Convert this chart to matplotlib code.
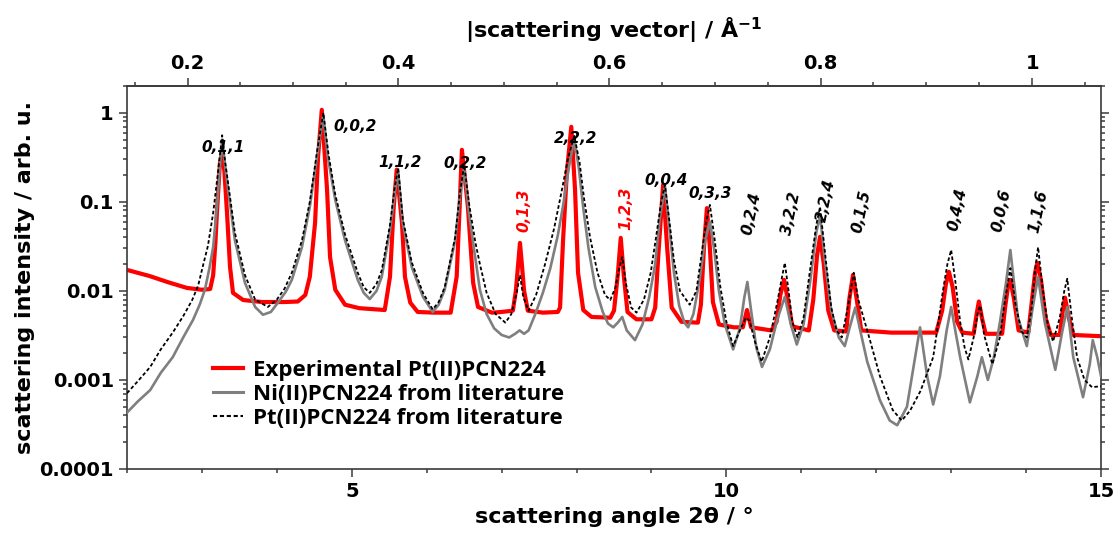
import numpy as np
import matplotlib
matplotlib.use("Agg")
import matplotlib.pyplot as plt
from matplotlib.ticker import FixedLocator, MultipleLocator, LogLocator, FuncFormatter, NullFormatter

# ---------------- data ----------------
exp_x = [2.00, 2.30, 2.55, 2.80, 3.00, 3.11, 3.15, 3.18, 3.20, 3.24, 3.27, 3.30, 3.335, 3.375, 3.415,
         3.55, 3.80, 4.10, 4.28, 4.38, 4.44, 4.51, 4.55, 4.60, 4.67, 4.71, 4.78, 4.91, 5.10,
         5.44, 5.51, 5.56, 5.60, 5.67, 5.71, 5.78, 5.88, 6.10, 6.32, 6.40, 6.44, 6.47, 6.55,
         6.62, 6.685, 6.87, 7.00, 7.15, 7.19, 7.22, 7.245, 7.27, 7.30, 7.35, 7.55, 7.75, 7.78,
         7.82, 7.87, 7.93, 7.98, 8.02, 8.09, 8.20, 8.45, 8.50, 8.55, 8.59, 8.63, 8.68, 8.80,
         9.00, 9.05, 9.09, 9.155, 9.21, 9.27, 9.40, 9.62, 9.66, 9.70, 9.74, 9.78, 9.82, 9.90,
         10.10, 10.22, 10.275, 10.33, 10.60, 10.67, 10.72, 10.77, 10.82, 10.88, 11.10, 11.16,
         11.21, 11.25, 11.30, 11.36, 11.44, 11.60, 11.64, 11.69, 11.74, 11.80, 12.20, 12.80,
         12.88, 12.93, 12.97, 13.02, 13.08, 13.15, 13.30, 13.34, 13.37, 13.41, 13.46, 13.68,
         13.72, 13.76, 13.79, 13.84, 13.90, 14.03, 14.08, 14.12, 14.15, 14.20, 14.26, 14.33,
         14.45, 14.49, 14.52, 14.57, 14.63, 15.00]
exp_y = [0.0172, 0.0147, 0.0125, 0.0108, 0.0103, 0.0105, 0.0150, 0.035, 0.075, 0.27, 0.37, 0.22, 0.075, 0.0186, 0.0095,
         0.0079, 0.0075, 0.0075, 0.0076, 0.0090, 0.0144, 0.058, 0.32, 1.08, 0.137, 0.024, 0.0103, 0.0070, 0.0064,
         0.0061, 0.0144, 0.088, 0.23, 0.058, 0.0144, 0.0074, 0.0058, 0.0057, 0.0057, 0.0144, 0.088, 0.384, 0.088,
         0.0123, 0.0066, 0.0057, 0.0058, 0.0060, 0.010, 0.020, 0.0346, 0.020, 0.010, 0.0060, 0.0057, 0.0058, 0.0065,
         0.037, 0.21, 0.696, 0.137, 0.016, 0.0061, 0.0051, 0.0050, 0.0060, 0.015, 0.0394, 0.015, 0.0058, 0.0048,
         0.0048, 0.0065, 0.024, 0.155, 0.030, 0.0065, 0.0045, 0.0044, 0.0070, 0.030, 0.085, 0.030, 0.0075, 0.0042,
         0.0039, 0.0039, 0.0061, 0.0039, 0.0036, 0.0045, 0.0090, 0.0133, 0.0080, 0.0040, 0.0036, 0.0080,
         0.025, 0.0405, 0.020, 0.0060, 0.0036, 0.0035, 0.0080, 0.0151, 0.0080, 0.0036, 0.0034, 0.0034,
         0.0060, 0.012, 0.0164, 0.011, 0.0045, 0.0034, 0.0033, 0.0055, 0.0076, 0.0050, 0.0033, 0.0033,
         0.0065, 0.0115, 0.0133, 0.0080, 0.0036, 0.0034, 0.0080, 0.016, 0.0207, 0.013, 0.0050, 0.0032,
         0.0032, 0.0060, 0.0084, 0.0050, 0.0032, 0.0031]

ni_x = [2.00, 2.15, 2.31, 2.45, 2.61, 2.75, 2.88, 2.97, 3.04, 3.10, 3.15, 3.21, 3.24, 3.27, 3.30, 3.35,
        3.44, 3.575, 3.71, 3.815, 3.92, 4.015, 4.12, 4.20, 4.335, 4.44, 4.535, 4.62, 4.68, 4.78, 4.91,
        5.08, 5.16, 5.24, 5.33, 5.40, 5.51, 5.58, 5.62, 5.68, 5.80, 5.95, 6.08, 6.16, 6.24, 6.38, 6.44,
        6.50, 6.56, 6.63, 6.71, 6.80, 6.90, 7.00, 7.10, 7.18, 7.24, 7.30, 7.36, 7.45, 7.55, 7.65, 7.75,
        7.82, 7.90, 7.97, 8.03, 8.09, 8.16, 8.25, 8.35, 8.42, 8.49, 8.55, 8.61, 8.67, 8.78, 8.88, 8.97,
        9.05, 9.11, 9.18, 9.24, 9.30, 9.37, 9.44, 9.49, 9.56, 9.64, 9.71, 9.78, 9.84, 9.90, 9.98, 10.09,
        10.18, 10.24, 10.28, 10.33, 10.40, 10.475, 10.58, 10.68, 10.78, 10.86, 10.94, 11.03, 11.12, 11.20,
        11.25, 11.32, 11.40, 11.50, 11.58, 11.65, 11.72, 11.80, 11.88, 12.05, 12.18, 12.28, 12.41, 12.52,
        12.585, 12.68, 12.76, 12.85, 12.94, 13.00, 13.06, 13.12, 13.25, 13.35, 13.41, 13.49, 13.57, 13.65,
        13.73, 13.79, 13.84, 13.89, 14.01, 14.09, 14.16, 14.25, 14.39, 14.48, 14.55, 14.63, 14.76, 14.85,
        14.89, 14.95, 15.00]
ni_y = [0.00043, 0.00058, 0.00077, 0.0012, 0.0018, 0.0030, 0.0047, 0.0070, 0.0103, 0.018, 0.031, 0.11, 0.25, 0.50, 0.30, 0.137,
        0.037, 0.0123, 0.0066, 0.0054, 0.0058, 0.0074, 0.0098, 0.0133, 0.031, 0.088, 0.32, 0.95, 0.32, 0.105, 0.037,
        0.0133, 0.0095, 0.0081, 0.0100, 0.0144, 0.048, 0.137, 0.217, 0.058, 0.0186, 0.0086, 0.0058, 0.0070, 0.0103, 0.037, 0.11,
        0.24, 0.08, 0.030, 0.0103, 0.0055, 0.0038, 0.0032, 0.0030, 0.0033, 0.0036, 0.0033, 0.0036, 0.0055, 0.0095, 0.018, 0.042,
        0.09, 0.25, 0.52, 0.24, 0.085, 0.030, 0.011, 0.0058, 0.0043, 0.0039, 0.0044, 0.0051, 0.0036, 0.0028, 0.0042, 0.0085,
        0.020, 0.065, 0.15, 0.05, 0.016, 0.0068, 0.0044, 0.0039, 0.0055, 0.013, 0.035, 0.060, 0.028, 0.010, 0.0042, 0.0022,
        0.0038, 0.0085, 0.0126, 0.0060, 0.0023, 0.0014, 0.0022, 0.0048, 0.0086, 0.0042, 0.0025, 0.0042, 0.013, 0.045,
        0.071, 0.020, 0.0060, 0.0030, 0.0024, 0.0040, 0.0065, 0.0032, 0.0016, 0.00059, 0.00035, 0.00031, 0.0005, 0.0018,
        0.0039, 0.0011, 0.00053, 0.0011, 0.0036, 0.0066, 0.0034, 0.0018, 0.00056, 0.0011, 0.0018, 0.0010, 0.0018, 0.0044,
        0.012, 0.0288, 0.012, 0.0051, 0.0024, 0.0066, 0.0144, 0.0044, 0.0013, 0.0034, 0.0066, 0.0018, 0.00064, 0.0015,
        0.0028, 0.0018, 0.0011]

pt_x = [2.00, 2.15, 2.31, 2.45, 2.61, 2.75, 2.87, 2.95, 3.01, 3.08, 3.15, 3.21, 3.27, 3.31, 3.36, 3.44,
        3.575, 3.71, 3.88, 4.00, 4.10, 4.20, 4.335, 4.44, 4.535, 4.62, 4.69, 4.78, 4.91, 5.08, 5.16, 5.24,
        5.33, 5.40, 5.51, 5.57, 5.62, 5.68, 5.80, 5.95, 6.08, 6.16, 6.24, 6.38, 6.44, 6.50, 6.57, 6.65,
        6.71, 6.80, 6.92, 7.05, 7.13, 7.20, 7.245, 7.29, 7.36, 7.46, 7.58, 7.70, 7.80, 7.89, 7.97, 8.04,
        8.10, 8.18, 8.28, 8.38, 8.45, 8.52, 8.57, 8.61, 8.66, 8.73, 8.80, 8.90, 8.99, 9.07, 9.13, 9.18,
        9.24, 9.30, 9.38, 9.51, 9.60, 9.67, 9.73, 9.78, 9.84, 9.92, 10.00, 10.09, 10.18, 10.26, 10.31,
        10.38, 10.47, 10.58, 10.68, 10.74, 10.78, 10.83, 10.88, 10.95, 11.03, 11.12, 11.20, 11.25, 11.32,
        11.40, 11.47, 11.54, 11.62, 11.70, 11.76, 11.88, 12.05, 12.22, 12.34, 12.45, 12.59, 12.76, 12.89,
        12.95, 13.00, 13.06, 13.12, 13.18, 13.23, 13.30, 13.36, 13.39, 13.44, 13.55, 13.65, 13.72, 13.79,
        13.86, 13.94, 14.01, 14.07, 14.12, 14.16, 14.22, 14.29, 14.36, 14.45, 14.51, 14.55, 14.61, 14.68,
        14.78, 14.88, 15.00]
pt_y = [0.00071, 0.00098, 0.0014, 0.0022, 0.0034, 0.0052, 0.0079, 0.0115, 0.0186, 0.032, 0.075, 0.20, 0.56, 0.28, 0.14, 0.045,
        0.015, 0.0080, 0.0066, 0.0080, 0.0105, 0.016, 0.037, 0.10, 0.36, 1.0, 0.34, 0.12, 0.043, 0.016, 0.011, 0.0095,
        0.012, 0.017, 0.055, 0.14, 0.24, 0.065, 0.021, 0.0095, 0.0062, 0.0075, 0.011, 0.040, 0.12, 0.26, 0.09, 0.035,
        0.020, 0.0095, 0.0055, 0.0044, 0.0055, 0.0095, 0.015, 0.0085, 0.0060, 0.0090, 0.020, 0.050, 0.13, 0.32, 0.55, 0.28,
        0.11, 0.040, 0.016, 0.0090, 0.0079, 0.011, 0.018, 0.024, 0.012, 0.0065, 0.0057, 0.0080, 0.016, 0.045, 0.10, 0.155,
        0.06, 0.022, 0.010, 0.0070, 0.010, 0.026, 0.06, 0.0925, 0.04, 0.011, 0.0045, 0.0024, 0.0036, 0.0050, 0.0046,
        0.0027, 0.0016, 0.0030, 0.0075, 0.014, 0.0207, 0.010, 0.0045, 0.0030, 0.0050, 0.018, 0.055, 0.088, 0.025,
        0.0065, 0.0036, 0.0030, 0.0065, 0.016, 0.0080, 0.0036, 0.0011, 0.00046, 0.00035, 0.00045, 0.00075, 0.0018, 0.010,
        0.020, 0.0288, 0.012, 0.0045, 0.0023, 0.0017, 0.0030, 0.0060, 0.0068, 0.0032, 0.0015, 0.0030, 0.0080, 0.018,
        0.0070, 0.0035, 0.0030, 0.0060, 0.017, 0.031, 0.011, 0.0042, 0.0027, 0.0050, 0.010, 0.0137, 0.0050, 0.0018,
        0.0010, 0.00083, 0.00085]

series_labels = ["Experimental Pt(II)PCN224", "Ni(II)PCN224 from literature", "Pt(II)PCN224 from literature"]

peak_labels = ["0,1,1", "0,0,2", "1,1,2", "0,2,2", "2,2,2", "0,1,3", "1,2,3", "0,0,4", "0,3,3",
               "0,2,4", "3,2,2", "2,2,4", "0,1,5", "0,4,4", "0,0,6", "1,1,6"]
peak_label_x = [3.28, 5.04, 5.64, 6.51, 7.99, 7.30, 8.66, 9.19, 9.78,
                10.34, 10.86, 11.33, 11.81, 13.08, 13.68, 14.16]
peak_label_y = [0.404, 0.696, 0.274, 0.267, 0.51, 0.081, 0.0856, 0.172, 0.123,
                0.075, 0.075, 0.105, 0.079, 0.083, 0.081, 0.079]
peak_label_red = [False, False, False, False, False, True, True, False, False,
                  False, False, False, False, False, False, False]
peak_label_rot = [0, 0, 0, 0, 0, 90, 90, 0, 0, 78, 78, 78, 78, 78, 78, 78]

x_ticks = [5, 10, 15]
q_ticks = [0.2, 0.4, 0.6, 0.8, 1.0]
wavelength = 1.5406  # Cu K-alpha, Angstrom

# ---------------- plot ----------------
plt.rcParams['font.family'] = ['DejaVu Sans']
fig = plt.figure(figsize=(11.17, 5.36), dpi=100)
ax = fig.add_axes([127/1117, 1-469/536, (1101-127)/1117, (469-86)/536])

ax.plot(exp_x, exp_y, color='#ff0000', lw=3.0, solid_joinstyle='round', zorder=2)
ax.plot(ni_x, ni_y, color='#7f7f7f', lw=1.9, zorder=3)
ax.plot(pt_x, pt_y, color='black', lw=1.3, ls=(0, (2.0, 1.3)), zorder=4)

ax.set_yscale('log')
ax.set_xlim(2, 15)
ax.set_ylim(1e-4, 2.0)

spine_c = '#3a3a3a'
for s in ax.spines.values():
    s.set_color(spine_c)
    s.set_linewidth(1.2)

ax.xaxis.set_major_locator(FixedLocator(x_ticks))
ax.xaxis.set_minor_locator(MultipleLocator(1))
ax.yaxis.set_major_locator(LogLocator(base=10, numticks=10))
ax.yaxis.set_minor_locator(LogLocator(base=10, subs=np.arange(2, 10), numticks=20))
ax.yaxis.set_major_formatter(FuncFormatter(lambda v, p: '%g' % v))
ax.yaxis.set_minor_formatter(NullFormatter())
ax.tick_params(which='both', direction='out', color=spine_c, width=1.1,
               labelsize=14, top=False, right=True)
ax.tick_params(which='major', length=6)
ax.tick_params(which='minor', length=3)
for lab in ax.get_xticklabels() + ax.get_yticklabels():
    lab.set_fontweight('bold')

ax.set_xlabel('scattering angle 2θ / °', fontsize=16, fontweight='bold', labelpad=4)
ax.set_ylabel('scattering intensity / arb. u.', fontsize=16, fontweight='bold', labelpad=3)


def tth_to_q(t):
    t = np.asarray(t, dtype=float)
    return 4 * np.pi * np.sin(np.radians(t / 2)) / wavelength


def q_to_tth(q):
    q = np.asarray(q, dtype=float)
    s = np.clip(q * wavelength / (4 * np.pi), -1, 1)
    return 2 * np.degrees(np.arcsin(s))


sec = ax.secondary_xaxis('top', functions=(tth_to_q, q_to_tth))
sec.xaxis.set_major_locator(FixedLocator(q_ticks))
sec.xaxis.set_minor_locator(MultipleLocator(0.05))
sec.xaxis.set_major_formatter(FuncFormatter(lambda v, p: '%g' % v))
sec.tick_params(which='both', direction='out', color=spine_c, width=1.1, labelsize=14)
sec.tick_params(which='major', length=6)
sec.tick_params(which='minor', length=3)
sec.spines['top'].set_color(spine_c)
sec.spines['top'].set_linewidth(1.2)
for lab in sec.get_xticklabels():
    lab.set_fontweight('bold')
sec.set_xlabel('|scattering vector| / Å$^{\\mathbf{-1}}$', fontsize=16, fontweight='bold', labelpad=12)

for txt, lx, ly, red, rot in zip(peak_labels, peak_label_x, peak_label_y, peak_label_red, peak_label_rot):
    ax.text(lx, ly, txt, color='#ff0000' if red else 'black', fontsize=11,
            fontweight='bold', fontstyle='italic', rotation=rot,
            ha='center', va='center', zorder=6)

# legend
h1, = ax.plot([], [], color='#ff0000', lw=3.0)
h2, = ax.plot([], [], color='#7f7f7f', lw=2.2)
h3, = ax.plot([], [], color='black', lw=1.5, ls=(0, (2.0, 1.3)))
leg = ax.legend([h1, h2, h3], series_labels, loc='upper left',
                bbox_to_anchor=((213-127)/974, (469-360)/383), frameon=False,
                borderpad=0, borderaxespad=0, handlelength=1.35, handletextpad=0.45,
                labelspacing=0.14, prop={'family': 'Open Sans', 'weight': 'bold', 'size': 16})

fig.savefig('out.png', dpi=100)
